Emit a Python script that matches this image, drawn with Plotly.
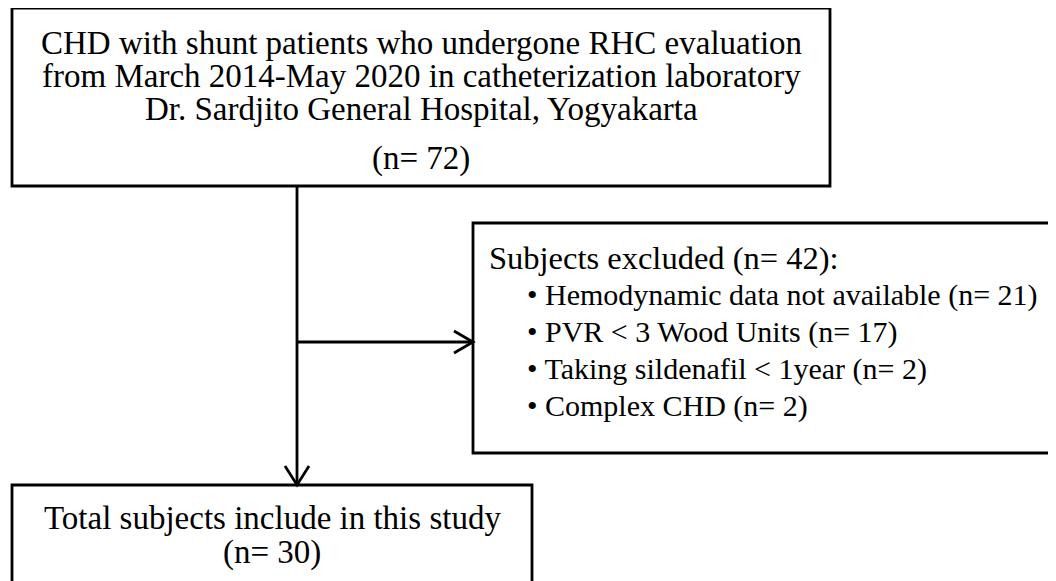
import plotly.graph_objects as go

# ---- data ----
screened_lines = ["CHD with shunt patients who undergone RHC evaluation",
                  "from March 2014-May 2020 in catheterization laboratory",
                  "Dr. Sardjito General Hospital, Yogyakarta"]
screened_n = 72
excluded_title = "Subjects excluded"
excluded_n = 42
exclusion_reasons = ["Hemodynamic data not available", "PVR < 3 Wood Units",
                     "Taking sildenafil < 1year", "Complex CHD"]
exclusion_counts = [21, 17, 2, 2]
included_label = "Total subjects include in this study"
included_n = 30

FONT = "Liberation Serif, Times New Roman, serif"
W, H = 1056, 581
OFF = 8  # page body margin: shift so that coordinates below are screen pixels

fig = go.Figure()
fig.update_xaxes(range=[OFF, W + OFF], visible=False, fixedrange=True)
fig.update_yaxes(range=[H + OFF, OFF], visible=False, fixedrange=True)

LW = 2.8
black = "#000000"

def box(x0, y0, x1, y1):
    fig.add_shape(type="rect", x0=x0, y0=y0, x1=x1, y1=y1, xref="x", yref="y",
                  line=dict(color=black, width=LW), fillcolor="rgba(0,0,0,0)")

def line(x0, y0, x1, y1):
    fig.add_shape(type="line", x0=x0, y0=y0, x1=x1, y1=y1, xref="x", yref="y",
                  line=dict(color=black, width=LW))

def text(x, y, s, size, anchor="center"):
    fig.add_annotation(x=x, y=y, xref="x", yref="y", text=s, showarrow=False,
                       xanchor=anchor, yanchor="middle",
                       font=dict(family=FONT, size=size, color=black))

# top box
top = (12, 8, 830, 186)
box(*top)
cx_top = (top[0] + top[2]) / 2
for s, y in zip(screened_lines, [43, 76, 109]):
    text(cx_top, y, s, 33)
text(cx_top, 158, f"(n= {screened_n})", 33)

# connectors
xv = 297
line(xv, top[3], xv, 485)
fig.add_shape(type="path", path=f"M {xv-12},{485-19} L {xv},{485} L {xv+12},{485-19}",
              line=dict(color=black, width=LW))
yh = 342
rb = (473, 223, 1060, 453)
line(xv, yh, rb[0], yh)
fig.add_shape(type="path", path=f"M {rb[0]-19},{yh-11} L {rb[0]},{yh} L {rb[0]-19},{yh+11}",
              line=dict(color=black, width=LW))

# right box
box(*rb)
text(487, 258, f"{excluded_title} (n= {excluded_n}):", 32.5, anchor="left")
for s, n, y in zip(exclusion_reasons, exclusion_counts, [295, 332, 369, 406]):
    text(525, y, f"• {s} (n= {n})", 30, anchor="left")

# bottom box
bb = (12, 485, 532, 640)
box(*bb)
cx_b = (bb[0] + bb[2]) / 2
text(cx_b, 518, included_label, 33)
text(cx_b, 552, f"(n= {included_n})", 33)

fig.update_layout(width=W, height=H, margin=dict(l=0, r=0, t=0, b=0),
                  paper_bgcolor="white", plot_bgcolor="white", showlegend=False)
fig.write_html("out.html")
